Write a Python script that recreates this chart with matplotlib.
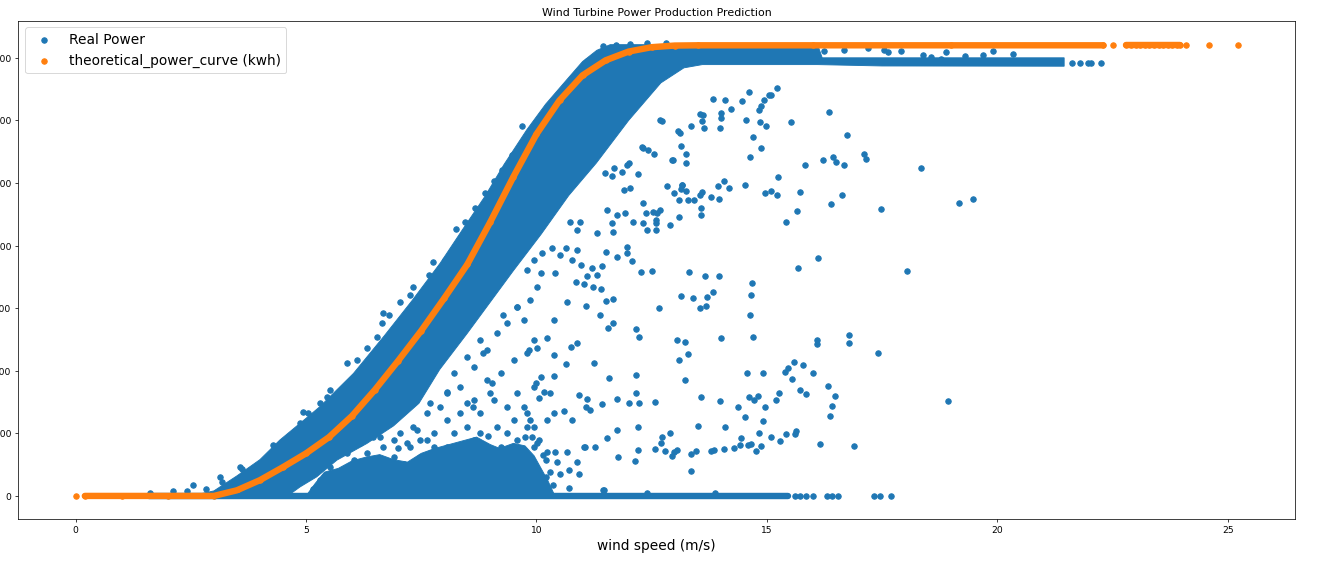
import numpy as np
import matplotlib.pyplot as plt

# --- data (wind speed m/s, power kW) ---

# theoretical power curve
theory_ws = [0.2, 1.0, 2.0, 3.0, 3.5, 4.0, 4.5, 5.0, 5.5, 6.0, 6.5, 7.0, 7.5, 8.0,
             8.5, 9.0, 9.5, 10.0, 10.5, 11.0, 11.5, 12.0, 12.5, 13.0, 13.5, 16.0,
             19.0, 22.3]
theory_kw = [0, 0, 0, 0, 45, 126, 230, 340, 470, 640, 850, 1080, 1320, 1580,
             1850, 2190, 2550, 2890, 3160, 3360, 3480, 3550, 3585, 3598, 3600, 3600,
             3600, 3600]
theory_tail_ws = [0.0, 22.52, 22.8, 22.9, 23.0, 23.1, 23.2, 23.3, 23.4, 23.5, 23.6,
                  23.7, 23.8, 23.9, 23.96, 24.1, 24.6, 25.23]
theory_tail_kw = [0] + [3600] * 17

# outline of the dense cloud of real power readings
band_upper_ws = [2.5, 3.0, 3.5, 4.0, 4.43, 5.0, 5.3, 6.03, 6.7, 7.3, 7.91, 8.4,
                 8.88, 9.3, 9.79, 10.2, 10.66, 11.0, 11.31, 11.6, 16.1, 16.2, 21.45]
band_upper_kw = [0, 40, 160, 290, 446, 620, 713, 979, 1280, 1560, 1859, 2130,
                 2392, 2650, 2925, 3130, 3326, 3470, 3560, 3605, 3605, 3500, 3500]
band_lower_ws = [4.6, 4.87, 5.23, 5.67, 6.32, 6.9, 7.45, 7.9, 8.5, 9.0, 9.5, 10.1,
                 10.7, 11.3, 12.0, 12.7, 13.2, 13.6, 16.1, 17.5, 21.45]
band_lower_kw = [0, 72, 152, 286, 419, 560, 740, 1010, 1300, 1550, 1800, 2090,
                 2400, 2660, 3000, 3300, 3420, 3446, 3446, 3435, 3433]

# outline of the crowded patch of low output readings (5-10 m/s)
cluster_ws = [5.0, 5.2, 5.4, 5.7, 6.0, 6.3, 6.6, 6.9, 7.2, 7.5, 7.8, 8.1, 8.4,
              8.7, 9.0, 9.2, 9.5, 9.75, 9.95, 10.1, 10.25, 10.4]
cluster_kw = [0, 100, 190, 220, 280, 310, 330, 290, 270, 340, 380, 410, 440,
              470, 410, 380, 420, 400, 320, 220, 120, 0]

# readings stuck at zero output
zero_ws = [1.6, 15.45]
zero_kw = [0, 0]
zero_tail_ws = [15.6, 15.72, 15.85, 16.0, 16.3, 16.42, 16.55, 17.33, 17.45, 17.7]

# loose points above the dense band
fringe_pts = [(1.61, 24), (2.12, 37), (2.41, 37), (2.55, 86), (2.84, 59), (3.13, 152),
              (3.17, 110), (3.57, 232), (3.60, 219), (4.29, 406), (4.33, 392),
              (4.87, 579), (4.94, 672), (5.05, 659), (5.30, 739), (5.45, 793),
              (5.52, 845), (5.88, 1059), (6.10, 1085), (6.28, 1019), (6.32, 1179),
              (6.54, 1273), (6.64, 1379), (6.68, 1459), (6.79, 1446), (7.04, 1553),
              (7.26, 1605), (7.33, 1672), (7.66, 1766), (7.76, 1872), (8.02, 1886),
              (8.25, 2131), (8.46, 2192), (8.67, 2299), (8.89, 2424), (9.07, 2512),
              (9.25, 2605), (9.46, 2725), (9.68, 2952), (10.16, 3019), (10.34, 3113),
              (10.52, 3179), (10.74, 3326), (10.96, 3393), (11.10, 3473), (11.21, 3486),
              (11.45, 3592), (11.72, 3601), (12.04, 3614), (12.4, 3618), (12.8, 3616)]

# scattered low output points below the band (5-10 m/s)
low_pts = [(5.01, 179), (5.30, 126), (5.16, 59), (5.59, 179), (5.67, 86), (5.88, 206),
           (6.03, 152), (6.17, 72), (6.32, 179), (6.46, 259), (6.61, 126), (6.75, 206),
           (6.90, 312), (7.04, 179), (7.19, 72), (7.33, 232), (7.48, 312), (7.62, 179),
           (7.77, 99), (7.91, 286), (8.06, 392), (8.20, 206), (8.35, 126), (8.49, 339),
           (8.64, 446), (8.78, 286), (8.93, 179), (9.07, 72), (9.22, 392), (9.36, 499),
           (9.51, 312), (9.65, 179), (9.80, 553), (9.94, 392), (10.01, 206), (5.88, 339),
           (6.17, 419), (6.61, 472), (7.04, 499), (7.33, 553), (7.62, 659), (7.77, 499),
           (8.06, 606), (8.35, 659), (8.49, 739), (8.78, 659), (9.07, 766), (9.36, 713),
           (9.58, 819), (9.80, 659), (9.94, 873), (8.06, 819), (8.35, 873), (8.64, 1033),
           (8.93, 926), (9.22, 979), (9.51, 1086), (9.80, 1139), (9.94, 1246), (8.93, 1166),
           (9.15, 1299), (9.36, 1379), (9.58, 1513), (9.73, 1406), (9.87, 1566),
           (10.01, 1673), (8.64, 766), (7.77, 392), (7.48, 446), (7.91, 713), (8.20, 979),
           (8.49, 1113), (8.78, 1246), (6.83, 72), (7.12, 259), (7.55, 259),
           (7.70, 339), (8.13, 286), (8.28, 339), (8.86, 366), (9.29, 286),
           (9.58, 446), (9.73, 312), (10.05, 446), (7.26, 392),
           (7.62, 446), (8.20, 499), (8.49, 553), (8.78, 499), (9.15, 553), (9.51, 606),
           (9.73, 713), (6.68, 392), (6.32, 339), (6.03, 286), (5.52, 232),
           (9.28, 1445), (9.57, 1512), (8.85, 1139), (9.03, 899), (8.05, 832), (7.69, 739),
           (6.46, 470), (6.90, 446), (7.18, 419), (7.41, 526), (8.63, 712), (9.00, 820),
           (10.2, 150), (10.35, 90), (10.15, 330), (9.9, 470), (8.95, 480), (7.0, 380)]

# scattered points, 10-19 m/s, under 2000 kW
mid_pts = [(10.52, 1926), (10.78, 1886), (10.96, 1846), (11.21, 1819), (11.43, 1833),
           (10.88, 1966), (10.63, 1979), (10.34, 1979), (10.12, 1939), (9.94, 1886),
           (9.80, 1806), (10.09, 1779), (10.41, 1779), (10.85, 1713), (11.03, 1691),
           (11.23, 1673), (11.39, 1651), (11.10, 1753), (11.32, 1766), (10.67, 1553),
           (10.38, 1406), (10.23, 1259), (10.01, 1179), (9.83, 1166), (10.38, 1126),
           (10.74, 1193), (10.88, 1219), (10.63, 1054), (11.25, 1059), (10.09, 953),
           (10.38, 958), (9.98, 899), (10.16, 833), (10.30, 819), (10.05, 779),
           (10.92, 806), (11.10, 771), (11.07, 712), (11.17, 686), (11.43, 731),
           (10.59, 681), (10.78, 606), (10.38, 659), (10.23, 606), (9.87, 606),
           (9.94, 553), (9.76, 472), (10.01, 419), (10.23, 352), (10.41, 352),
           (10.67, 352), (10.88, 272), (10.70, 211), (10.92, 179), (11.03, 392),
           (10.45, 272), (10.20, 286), (9.87, 286), (9.72, 206), (10.30, 192),
           (10.52, 179), (9.94, 94), (10.70, 67), (11.46, 51), (11.28, 392),
           (16.10, 1899), (15.68, 1819), (18.04, 1798), (13.30, 1787), (13.66, 1760),
           (13.96, 1760), (12.50, 1798), (12.26, 1787), (11.96, 1992), (11.96, 1939),
           (12.08, 1878), (11.75, 1912), (11.51, 1952), (14.67, 1704), (14.65, 1606),
           (14.63, 1446), (14.70, 1272), (13.84, 1632), (13.71, 1592), (13.40, 1579),
           (13.13, 1600), (13.54, 1504), (13.67, 1518), (12.66, 1504), (13.06, 1246),
           (13.22, 1227), (13.28, 1131), (13.09, 1086), (13.22, 926), (14.01, 1264),
           (12.15, 1331), (12.22, 1272), (11.56, 1339), (11.67, 1379), (11.37, 1446),
           (11.51, 1558), (11.65, 1571), (11.08, 1518), (16.09, 1246), (16.09, 1211),
           (16.79, 1286), (16.79, 1219), (17.42, 1144), (15.58, 1072), (15.79, 1046),
           (15.45, 1024), (15.40, 992), (15.99, 979), (15.54, 934), (15.72, 846),
           (15.85, 811), (16.32, 880), (16.48, 798), (16.41, 720), (16.37, 638),
           (14.57, 979), (14.91, 979), (14.62, 792), (14.72, 766), (14.81, 798),
           (14.96, 707), (15.26, 824), (15.19, 766), (14.53, 627), (14.91, 598),
           (14.38, 707), (13.57, 787), (13.99, 760), (13.50, 560), (14.09, 552),
           (14.83, 504), (15.09, 472), (15.29, 438), (15.41, 494), (15.61, 494),
           (15.63, 520), (14.43, 459), (14.29, 379), (14.06, 371), (13.86, 366),
           (13.78, 358), (13.47, 358), (13.36, 331), (14.58, 406), (14.65, 414),
           (14.77, 360), (14.88, 398), (14.41, 406), (16.16, 414), (16.88, 400),
           (13.36, 198), (12.99, 352), (13.06, 366), (12.95, 318), (12.90, 499),
           (12.73, 467), (12.70, 419), (12.78, 360), (12.58, 371), (12.57, 752),
           (12.22, 739), (12.01, 739), (12.17, 824), (12.17, 966), (11.74, 774),
           (11.74, 526), (12.20, 552), (12.20, 366), (12.14, 278), (11.77, 312),
           (11.54, 459), (11.05, 387), (11.45, 51), (12.39, 24), (13.87, 24),
           (11.57, 939), (18.93, 760)]

# scattered points, 11-20 m/s, above 2000 kW
high_pts = [(11.89, 2446), (12.03, 2459), (11.63, 2552), (12.21, 2574), (11.53, 2286),
            (11.74, 2245), (11.92, 2259), (12.10, 2192), (11.63, 2179), (11.67, 2112),
            (11.31, 2099), (10.87, 2126), (10.73, 2192), (10.95, 2192), (12.32, 2779),
            (12.32, 2339), (12.32, 2179), (11.49, 2579), (11.86, 2587), (11.97, 2646),
            (12.01, 2659), (11.68, 2619),
            (13.82, 3174), (14.09, 3166), (14.22, 3094), (14.00, 3059), (14.00, 3019),
            (13.98, 2939), (14.47, 3153), (14.62, 3225), (14.54, 3006), (14.83, 3086),
            (14.87, 3113), (14.94, 3166), (15.05, 3206), (15.09, 3201), (15.23, 3259),
            (14.85, 2985), (14.98, 2953), (14.69, 2867), (14.87, 2779), (14.64, 2704),
            (15.52, 2985), (16.34, 3065), (16.74, 2881), (15.83, 2646), (16.21, 2683),
            (16.43, 2704), (16.49, 2665), (16.68, 2646), (17.10, 2734), (17.14, 2691),
            (17.48, 2294), (15.41, 2192), (15.65, 2280), (15.72, 2432), (16.39, 2334),
            (16.62, 2406), (15.25, 2545), (15.23, 2406), (15.09, 2440), (14.96, 2424),
            (14.53, 2480), (14.18, 2459), (14.07, 2512), (13.93, 2472), (13.78, 2387),
            (13.96, 2374), (13.60, 2430), (13.55, 2406), (13.42, 2366), (13.28, 2366),
            (13.09, 2366), (13.25, 2438), (13.15, 2486), (12.99, 2419), (12.84, 2472),
            (13.56, 2299), (13.56, 2246), (13.09, 2232), (12.90, 2166), (12.69, 2286),
            (12.62, 2259), (12.52, 2267), (12.37, 2259), (12.59, 2206), (12.59, 2179),
            (12.59, 2126), (12.40, 2126), (12.54, 2734), (12.41, 2766), (12.30, 2784),
            (13.24, 2659), (13.24, 2731), (13.13, 2792), (13.12, 2899), (13.36, 2953),
            (13.60, 2992), (13.64, 2939), (13.62, 3046), (13.54, 3051), (12.96, 2680),
            (13.13, 2456), (12.72, 2998), (12.68, 3005), (13.08, 2912), (12.94, 2686),
            (13.15, 2485), (18.35, 2619), (19.17, 2339), (19.47, 2374)]

# points around the rated power plateau
plateau_pts = [(16.25, 3553), (16.68, 3566), (17.19, 3580), (17.55, 3560), (17.62, 3547),
               (17.91, 3553), (18.38, 3521), (18.57, 3505), (18.78, 3494), (18.88, 3547),
               (19.29, 3513), (19.69, 3521), (19.90, 3553), (20.33, 3531), (21.61, 3459),
               (21.79, 3459), (21.97, 3459), (22.04, 3459), (22.26, 3459)]

blue = '#1f77b4'
orange = '#ff7f0e'

dpi = 66
fig = plt.figure(figsize=(1318.5 / dpi, 564.5 / dpi), dpi=dpi)
ax = fig.add_axes([18 / 1318, 1 - 519 / 564, 1277 / 1318, 498 / 564])

# crowded parts of the real power cloud
ax.fill(band_upper_ws + band_lower_ws[::-1], band_upper_kw + band_lower_kw[::-1],
        color=blue, lw=1)
ax.fill(cluster_ws, cluster_kw, color=blue, lw=1)
ax.plot(zero_ws, zero_kw, color=blue, lw=7, solid_capstyle='round')

loose = np.array(fringe_pts + low_pts + mid_pts + high_pts + plateau_pts)
loose = np.vstack([loose, np.column_stack([zero_tail_ws, np.zeros(len(zero_tail_ws))])])
ax.scatter(loose[:, 0], loose[:, 1], color=blue, label='Real Power')

# theoretical curve
ax.plot(theory_ws, theory_kw, color=orange, lw=7, solid_capstyle='round')
ax.plot(theory_tail_ws[2:15], theory_tail_kw[2:15], color=orange, lw=7,
        solid_capstyle='round')
ax.scatter(theory_ws + theory_tail_ws, theory_kw + theory_tail_kw, color=orange,
           label='theoretical_power_curve (kwh)')

ax.set_xlim(-1.25, 26.47)
ax.set_ylim(-184, 3798)
ax.set_xticks([0, 5, 10, 15, 20, 25])
ax.set_yticks(np.arange(0, 3501, 500))
ax.set_title('Wind Turbine Power Production Prediction')
ax.set_xlabel('wind speed (m/s)', fontsize=15)
ax.legend(loc='upper left', fontsize=15)

fig.savefig('out.png', dpi=dpi)
